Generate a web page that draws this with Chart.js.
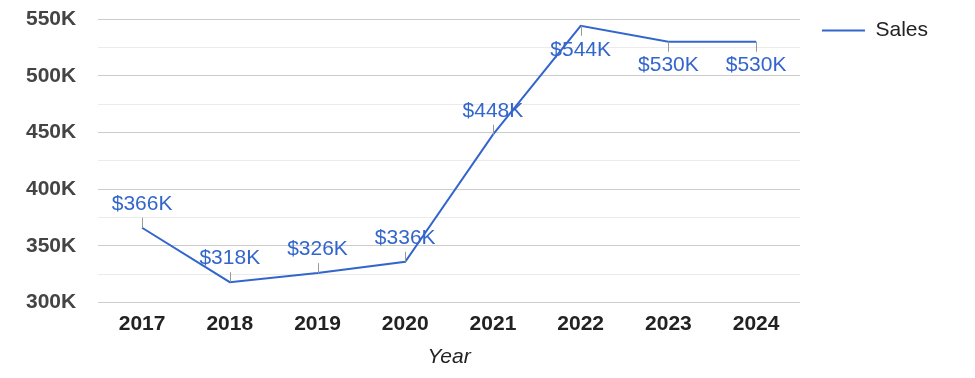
<!DOCTYPE html>
<html>
<head>
<meta charset="utf-8">
<script src="https://cdn.jsdelivr.net/npm/chart.js@4.4.1/dist/chart.umd.min.js"></script>
<style>
  html, body { margin: 0; padding: 0; background: #fff; }
  #wrap { width: 975px; height: 378px; }
</style>
</head>
<body>
<div id="wrap"><canvas id="salesChart"></canvas></div>
<script>
const years = ['2017', '2018', '2019', '2020', '2021', '2022', '2023', '2024'];
const sales = [366000, 318000, 326000, 336000, 448000, 544000, 530000, 530000];
// where each value label sits relative to its point
const labelSide = ['above', 'above', 'above', 'above', 'above', 'below', 'below', 'below'];

const blue = '#3366cc';
const fontFamily = 'Arial, "Liberation Sans", sans-serif';

// value labels with small leader ticks
const valueLabels = {
    id: 'valueLabels',
    afterDatasetsDraw(chart) {
        const ctx = chart.ctx;
        const meta = chart.getDatasetMeta(0);
        ctx.save();
        ctx.font = '21px ' + fontFamily;
        ctx.textAlign = 'center';
        ctx.textBaseline = 'middle';
        meta.data.forEach((pt, i) => {
            const dir = labelSide[i] === 'above' ? -1 : 1;
            ctx.strokeStyle = '#999';
            ctx.lineWidth = 1;
            ctx.beginPath();
            ctx.moveTo(Math.round(pt.x) + 0.5, pt.y);
            ctx.lineTo(Math.round(pt.x) + 0.5, pt.y + dir * 10);
            ctx.stroke();
            ctx.fillStyle = blue;
            ctx.fillText('$' + Math.round(sales[i] / 1000) + 'K', pt.x, pt.y + dir * 24);
        });
        ctx.restore();
    }
};

window.onload = function () {
    const ctx = document.getElementById('salesChart').getContext('2d');
    new Chart(ctx, {
        type: 'line',
        data: {
            labels: years,
            datasets: [{
                label: 'Sales',
                data: sales,
                borderColor: blue,
                backgroundColor: blue,
                borderWidth: 2,
                pointRadius: 0,
                tension: 0
            }]
        },
        options: {
            responsive: true,
            maintainAspectRatio: false,
            animation: false,
            layout: { padding: { top: -2, left: 4, right: 37, bottom: 8 } },
            plugins: {
                legend: {
                    position: 'right',
                    align: 'start',
                    labels: {
                        usePointStyle: true,
                        pointStyle: 'line',
                        pointStyleWidth: 43,
                        color: '#222',
                        padding: 22,
                        font: { family: fontFamily, size: 21 }
                    }
                },
                tooltip: { enabled: false }
            },
            scales: {
                x: {
                    offset: true,
                    grid: { display: false },
                    border: { display: false },
                    ticks: {
                        color: '#222',
                        padding: 1,
                        font: { family: fontFamily, size: 21, weight: 'bold' }
                    },
                    title: {
                        display: true,
                        text: 'Year',
                        color: '#222',
                        padding: { top: 7, bottom: 0 },
                        font: { family: fontFamily, size: 21, style: 'italic' }
                    }
                },
                y: {
                    min: 300000,
                    max: 550000,
                    border: { display: false },
                    grid: {
                        drawTicks: false,
                        color: c => c.tick.value % 50000 === 0 ? '#cccccc' : '#ebebeb'
                    },
                    // tick padding is only meant for the gap to the plot, not the top edge
                    afterFit: s => { s.paddingTop = 19; },
                    ticks: {
                        stepSize: 25000,
                        autoSkip: false,
                        padding: 22,
                        color: '#444',
                        font: { family: fontFamily, size: 21, weight: 'bold' },
                        callback: v => v % 50000 === 0 ? (v / 1000) + 'K' : ''
                    }
                }
            }
        },
        plugins: [valueLabels]
    });
};
</script>
</body>
</html>
